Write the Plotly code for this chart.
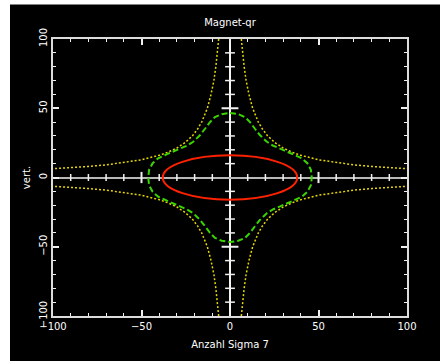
import plotly.graph_objects as go

# ---------------- data ----------------
tick_vals = [-100, -50, 0, 50, 100]
tick_text = ["\u2212100", "\u221250", "0", "50", "100"]
center_minor = [-90, -80, -70, -60, -40, -30, -20, -10, 10, 20, 30, 40, 60, 70, 80, 90]
center_major = [-50, 50]

ellipse_half_width = 38
ellipse_half_height = 16

# green (dashed) closed curve, first quadrant, from top to right
green_x_q1 = [0, 4.7, 8.5, 11.3, 14.1, 17.0, 20.8, 24.5, 30.2, 35.8, 40.6, 43.7, 45.7, 46.2]
green_y_q1 = [46.6, 45.7, 43.6, 40.0, 35.2, 30.5, 25.8, 22.9, 19.8, 16.7, 13.9, 10.3, 5.6, 0]

# yellow (dotted) branch, first quadrant
yellow_x_q1 = [6.4, 7.1, 8.0, 9.1, 10.7, 12.8, 16.0, 18.3, 21.3, 25.3, 30.0, 35.0, 40.0, 50.0, 60.0, 70.0, 80.0, 90.0, 100.0]
yellow_y_q1 = [100.0, 90.0, 80.0, 70.0, 60.0, 50.0, 40.0, 35.0, 30.0, 25.3, 21.3, 18.3, 16.0, 12.8, 10.7, 9.1, 8.0, 7.1, 6.4]

# ---------------- build curves from the quadrant readings (symmetry) ----------------
gx, gy = [], []
gx += green_x_q1;                          gy += green_y_q1
gx += green_x_q1[::-1];                    gy += [-v for v in green_y_q1[::-1]]
gx += [-v for v in green_x_q1];            gy += [-v for v in green_y_q1]
gx += [-v for v in green_x_q1[::-1]];      gy += green_y_q1[::-1]

yx, yy = [], []
for sx, sy in [(1, 1), (-1, 1), (-1, -1), (1, -1)]:
    yx += [sx * v for v in yellow_x_q1] + [None]
    yy += [sy * v for v in yellow_y_q1] + [None]

FONT = "DejaVu Sans"
W, H = 440, 361
ML, MR, MT, MB = 53, 33, 39, 41
PW, PH = W - ML - MR, H - MT - MB

fig = go.Figure()

fig.add_trace(go.Scatter(x=yx, y=yy, mode="lines",
                         line=dict(color="#e6d600", width=1.5, dash="2px,2px"),
                         hoverinfo="skip", showlegend=False))
fig.add_trace(go.Scatter(x=gx, y=gy, mode="lines",
                         line=dict(color="#3ad400", width=2, dash="6px,3px"),
                         hoverinfo="skip", showlegend=False))

# ticks on the central axes
fig.add_trace(go.Scatter(x=center_minor, y=[0] * len(center_minor), mode="markers",
                         marker=dict(symbol="line-ns", size=5, line=dict(color="#f0f0f0", width=1.5)),
                         hoverinfo="skip", showlegend=False))
fig.add_trace(go.Scatter(x=center_major, y=[0] * len(center_major), mode="markers",
                         marker=dict(symbol="line-ns", size=8, line=dict(color="#f0f0f0", width=2)),
                         hoverinfo="skip", showlegend=False))
fig.add_trace(go.Scatter(x=[0] * len(center_minor), y=center_minor, mode="markers",
                         marker=dict(symbol="line-ew", size=7, line=dict(color="#f0f0f0", width=1.5)),
                         hoverinfo="skip", showlegend=False))
fig.add_trace(go.Scatter(x=[0] * len(center_major), y=center_major, mode="markers",
                         marker=dict(symbol="line-ew", size=12, line=dict(color="#f0f0f0", width=2)),
                         hoverinfo="skip", showlegend=False))

# black panel behind everything
fig.add_shape(type="rect", xref="paper", yref="paper",
              x0=(10 - ML) / PW, x1=(W + 5 - ML) / PW,
              y0=(PH + MT - (H + 5)) / PH, y1=(PH + MT - 4) / PH,
              fillcolor="black", line=dict(width=0), layer="below")

# red ellipse
fig.add_shape(type="circle", xref="x", yref="y",
              x0=-ellipse_half_width, x1=ellipse_half_width,
              y0=-ellipse_half_height, y1=ellipse_half_height,
              line=dict(color="#ff2200", width=2), layer="above")

axis_common = dict(
    showgrid=False, showline=True, linecolor="#dcdcdc", linewidth=2,
    mirror="allticks", ticks="inside", ticklen=6, tickwidth=1.5, tickcolor="#f0f0f0",
    tickvals=tick_vals, ticktext=tick_text,
    minor=dict(dtick=10, ticks="inside", ticklen=3, tickwidth=1.2, tickcolor="#f0f0f0"),
    tickfont=dict(family=FONT, size=10, color="white"),
    zeroline=True, zerolinewidth=2,
)

fig.update_xaxes(range=[-100, 100], zerolinecolor="#f4f4f4",
                 title=dict(text="Anzahl Sigma 7", font=dict(family=FONT, size=10, color="white"), standoff=10),
                 **axis_common)
fig.update_yaxes(range=[-100, 100], zerolinecolor="#b8b8b8", tickangle=-90,
                 title=dict(text="vert.", font=dict(family=FONT, size=10, color="white"), standoff=6),
                 **axis_common)

fig.update_layout(
    width=W, height=H,
    margin=dict(l=ML, r=MR, t=MT, b=MB, pad=0),
    paper_bgcolor="white", plot_bgcolor="black",
    title=dict(text="Magnet-qr", x=0.5, xref="paper", xanchor="center",
               y=1 - 22 / H, yanchor="middle",
               font=dict(family=FONT, size=10, color="white")),
    showlegend=False,
)

fig.write_html("out.html", config={"displayModeBar": False},
               post_script="document.body.style.margin='0';document.body.style.overflow='hidden';")
